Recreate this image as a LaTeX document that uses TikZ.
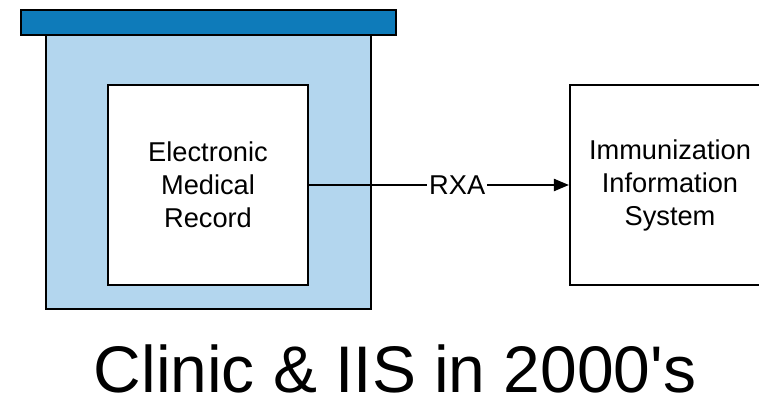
\documentclass[tikz,border=0pt]{standalone}
\usepackage{fontspec}
\setmainfont{Liberation Sans}
\usepackage{xcolor}
\usetikzlibrary{arrows.meta}
\definecolor{roofBlue}{RGB}{14, 123, 186}
\definecolor{clinicBlue}{RGB}{179, 214, 238}

\begin{document}
\begin{tikzpicture}[
    outline/.style={draw=black,line width=1.2pt,inner sep=0pt},
    sysbox/.style={outline,fill=white,minimum width=4cm,minimum height=4cm,align=center,font=\fontsize{15.5}{18.8}\selectfont},
    flow/.style={-{Triangle[length=0.3cm,width=0.24cm]},line width=1.2pt}
]
    \useasboundingbox (0,0) rectangle (15.18,-8);
    % Clinic building
    \node[outline,fill=clinicBlue,minimum width=6.5cm,minimum height=5.48cm] (clinic) at (4.17,-3.44) {};
    \node[outline,fill=roofBlue,minimum width=7.5cm,minimum height=0.5cm] (roof) at (4.17,-0.45) {};

    % Systems
    \node[sysbox] (emr) at (4.16,-3.7) {Electronic\\Medical\\Record};
    \node[sysbox] (iis) at (13.4,-3.7) {Immunization\\Information\\System};

    \draw[flow] (emr) -- node[pos=0.57,fill=white,inner sep=1pt,font=\fontsize{15.5}{18}\selectfont] (rxa) {RXA} (iis);

    % Title
    \node[anchor=base,inner sep=0pt,font=\fontsize{37.5}{44}\selectfont] (title) at (7.9,-7.84) {Clinic \& IIS in 2000\textquotesingle s};
\end{tikzpicture}
\end{document}
